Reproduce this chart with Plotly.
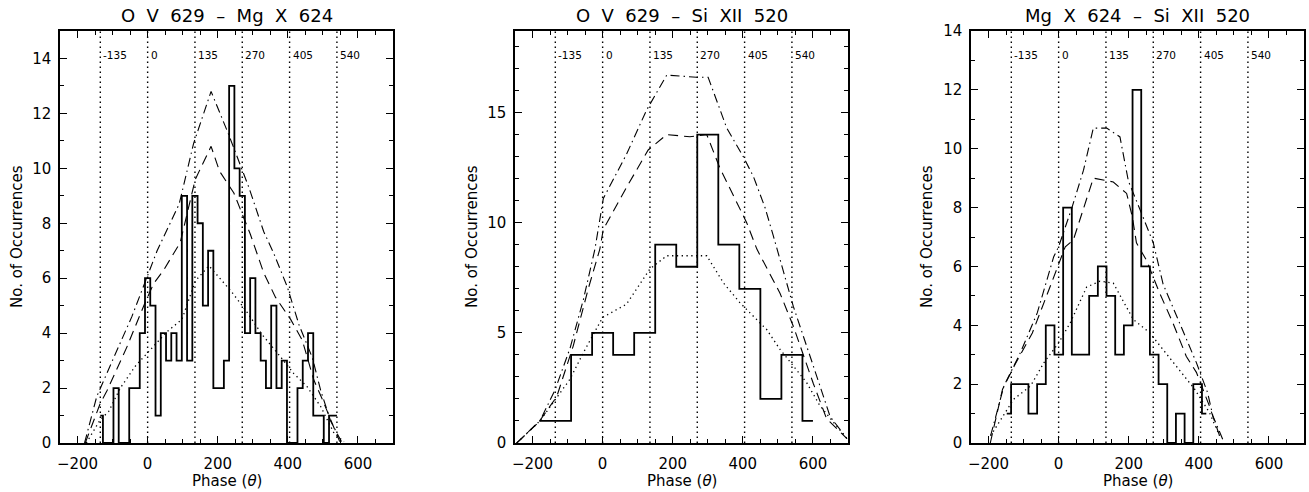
import plotly.graph_objects as go

# ---------------- data ----------------
ref_phases = [-135, 0, 135, 270, 405, 540]

titles = ["O\u00a0 V\u00a0 629\u00a0 \u2013\u00a0 Mg\u00a0 X\u00a0 624",
          "O\u00a0 V\u00a0 629\u00a0 \u2013\u00a0 Si\u00a0 XII\u00a0 520",
          "Mg\u00a0 X\u00a0 624\u00a0 \u2013\u00a0 Si\u00a0 XII\u00a0 520"]

# Panel 1 : O V 629 - Mg X 624 (histogram, 15 deg bins)
p1_hist_x = [-135, -120, -105, -90, -75, -60, -45, -30, -15, 0, 15, 30, 45, 60, 75, 90,
             105, 120, 135, 150, 165, 180, 195, 210, 225, 240, 255, 270, 285, 300, 315,
             330, 345, 360, 375, 390, 405, 420, 435, 450, 465, 480, 495, 510, 525, 540]
p1_hist_y = [1, 0, 0, 2, 0, 0, 2, 2, 4, 6, 5, 1, 4, 3, 4, 3,
             9, 3, 9, 8, 5, 7, 2, 2, 3, 13, 10, 9, 4, 6, 4,
             3, 2, 5, 2, 3, 0, 0, 2, 3, 4, 1, 1, 0, 1, 1]
p1_dd_x = [-180, -145, -97, -45, 0, 27, 90, 131, 181, 229, 265, 289, 331, 360, 398, 432, 470, 494, 522, 555]
p1_dd_y = [0, 1.7, 3.1, 4.6, 6.1, 7.0, 8.7, 10.9, 12.8, 11.3, 10.1, 9.3, 7.7, 6.9, 5.7, 4.3, 3.1, 1.9, 0.8, 0]
p1_da_x = [-178, -135, -116, -59, -11, 17, 46, 93, 136, 181, 205, 246, 293, 331, 365, 408, 441, 474, 498, 522, 548]
p1_da_y = [0, 1.45, 1.9, 3.5, 5.0, 5.8, 6.3, 7.3, 9.6, 10.8, 9.9, 9.1, 7.6, 6.2, 5.3, 4.5, 3.75, 2.3, 1.6, 0.85, 0.05]
p1_do_x = [-175, -135, -111, -78, -35, 0, 55, 98, 136, 175, 236, 279, 327, 379, 417, 455, 494, 532, 560]
p1_do_y = [0, 0.85, 1.15, 2.0, 2.8, 3.3, 4.05, 4.5, 5.9, 6.45, 5.56, 4.85, 3.94, 3.14, 2.53, 2.05, 1.32, 0.35, 0.05]

# Panel 2 : O V 629 - Si XII 520 (histogram, 60 deg bins)
p2_hist_x = [-180, -120, -60, 0, 60, 120, 180, 240, 300, 360, 420, 480, 540, 600]
p2_hist_y = [1, 1, 4, 5, 4, 5, 9, 8, 14, 9, 7, 2, 4, 1]
p2_dd_x = [-245, -179, -136, -93, -55, -22, 2, 68, 125, 183, 268, 301, 354, 401, 430, 463, 487, 544, 601, 649, 697]
p2_dd_y = [0, 1.0, 2.4, 4.3, 6.5, 8.8, 11.1, 13.1, 15.1, 16.7, 16.6, 16.6, 14.3, 13.0, 12.1, 10.7, 9.4, 6.2, 3.5, 1.2, 0.2]
p2_da_x = [-245, -180, -131, -84, -41, -8, 2, 68, 130, 183, 249, 297, 334, 372, 411, 440, 506, 544, 601, 639, 697]
p2_da_y = [0, 1.0, 2.1, 4.4, 7.0, 8.8, 9.7, 11.6, 13.3, 14.0, 13.9, 14.0, 12.5, 11.3, 10.0, 8.8, 6.8, 5.3, 2.7, 1.1, 0.2]
p2_do_x = [-245, -179, -93, -55, 0, 68, 135, 183, 297, 345, 392, 430, 468, 506, 544, 582, 620, 658, 697]
p2_do_y = [0, 1.0, 2.9, 4.1, 5.7, 6.3, 7.9, 8.5, 8.5, 7.26, 6.36, 5.75, 5.15, 4.25, 3.5, 2.74, 1.69, 0.94, 0.2]

# Panel 3 : Mg X 624 - Si XII 520 (histogram, ~25 deg bins)
p3_hist_x = [-148, -123.25, -98.5, -73.75, -49, -24.25, 0.5, 25.25, 50, 74.75, 99.5, 124.25,
             149, 173.75, 198.5, 223.25, 248, 272.75, 297.5, 322.25, 347, 371.75, 396.5, 421.25]
p3_hist_y = [1, 2, 2, 1, 2, 4, 3, 8, 3, 3, 5, 6, 5, 3, 4, 12, 6, 3, 2, 0, 1, 0, 2, 1]
p3_dd_x = [-194, -156, -109, -61, -14, 0, 38, 71, 99, 137, 175, 199, 240, 270, 298, 345, 393, 425, 440, 468]
p3_dd_y = [0.25, 1.94, 3.07, 4.42, 6.33, 6.67, 8.0, 9.27, 10.7, 10.7, 10.4, 8.9, 7.7, 6.8, 5.4, 4.1, 2.73, 1.71, 0.92, 0.13]
p3_da_x = [-195, -160, -123, -75, -28, 19, 42, 71, 99, 156, 194, 210, 222, 251, 288, 326, 364, 393, 430, 459]
p3_da_y = [0, 1.83, 2.7, 3.74, 5.2, 6.67, 6.9, 8.0, 9.0, 8.87, 8.48, 7.7, 6.8, 6.2, 5.1, 4.08, 2.95, 2.4, 1.26, 0.25]
p3_do_x = [-194, -128, -80, -42, 0, 33, 80, 118, 156, 194, 213, 260, 298, 345, 388, 430, 459]
p3_do_y = [0.25, 1.49, 1.94, 2.73, 3.4, 4.08, 5.3, 5.5, 5.43, 4.64, 4.2, 3.74, 3.18, 2.5, 1.83, 1.04, 0.25]

y_ranges = [[0, 15], [0, 18.7], [0, 14]]
y_dticks = [2, 5, 2]
x_tickvals = [-200, 0, 200, 400, 600]

panels = [
    (p1_hist_x, p1_hist_y, p1_dd_x, p1_dd_y, p1_da_x, p1_da_y, p1_do_x, p1_do_y),
    (p2_hist_x, p2_hist_y, p2_dd_x, p2_dd_y, p2_da_x, p2_da_y, p2_do_x, p2_do_y),
    (p3_hist_x, p3_hist_y, p3_dd_x, p3_dd_y, p3_da_x, p3_da_y, p3_do_x, p3_do_y),
]

# ---------------- layout geometry ----------------
W, H = 1309, 492
x_pix = [(60, 393), (515, 848), (971, 1304)]
y_top, y_bot = 31, 443
ytitle_px = [17, 472, 927]
FONT = "DejaVu Sans"

fig = go.Figure()
shapes, annotations = [], []

for i, (hx, hy, ddx, ddy, dax, day, dox, doy) in enumerate(panels):
    xa = "x" if i == 0 else f"x{i+1}"
    ya = "y" if i == 0 else f"y{i+1}"
    common = dict(xaxis=xa, yaxis=ya, mode="lines", showlegend=False, hoverinfo="skip")
    fig.add_trace(go.Scatter(x=dox, y=doy, line=dict(color="black", width=1.3, dash="1.3px,3.5px"), **common))
    fig.add_trace(go.Scatter(x=dax, y=day, line=dict(color="black", width=1.1, dash="10px,6px"), **common))
    fig.add_trace(go.Scatter(x=ddx, y=ddy, line=dict(color="black", width=1.1, dash="9px,4px,1.5px,4px"), **common))
    fig.add_trace(go.Scatter(x=hx, y=hy, line=dict(color="black", width=1.8, shape="hvh"), **common))

    d0, d1 = x_pix[i][0] / W, x_pix[i][1] / W
    xkey = "xaxis" if i == 0 else f"xaxis{i+1}"
    ykey = "yaxis" if i == 0 else f"yaxis{i+1}"
    fig.layout[xkey] = dict(
        domain=[d0, d1], anchor=ya, range=[-250, 700], tickvals=x_tickvals,
        ticks="inside", ticklen=7, tickwidth=1, tickcolor="black",
        minor=dict(dtick=50, tick0=0, ticks="inside", ticklen=4, tickcolor="black", tickwidth=1),
        showline=True, linecolor="black", linewidth=1.5, mirror="ticks",
        showgrid=False, zeroline=False, ticklabelstandoff=6, automargin=False,
        tickfont=dict(family=FONT, size=15, color="black"),
    )
    fig.layout[ykey] = dict(
        domain=[1 - y_bot / H, 1 - y_top / H], anchor=xa, range=y_ranges[i],
        dtick=y_dticks[i], tick0=0,
        ticks="inside", ticklen=7, tickwidth=1, tickcolor="black",
        minor=dict(dtick=1, ticks="inside", ticklen=4, tickcolor="black", tickwidth=1),
        showline=True, linecolor="black", linewidth=1.5, mirror="ticks",
        showgrid=False, zeroline=False, ticklabelstandoff=4, automargin=False,
        tickfont=dict(family=FONT, size=15, color="black"),
    )

    for p in ref_phases:
        shapes.append(dict(type="line", xref=xa, yref=f"{ya} domain", x0=p, x1=p, y0=0, y1=1,
                           line=dict(color="black", width=1.4, dash="1.4px,3.6px")))
        annotations.append(dict(x=p, y=1 - 55 / H, xref=xa, yref="paper", text=str(p),
                                showarrow=False, xanchor="left", yanchor="middle", xshift=1,
                                font=dict(family=FONT, size=10.5, color="black")))

    cx = (d0 + d1) / 2
    annotations.append(dict(x=cx, y=1 - 16 / H, xref="paper", yref="paper", text=titles[i],
                            showarrow=False, xanchor="center", yanchor="middle",
                            font=dict(family=FONT, size=18, color="black")))
    annotations.append(dict(x=cx, y=1 - 481 / H, xref="paper", yref="paper",
                            text="Phase (<i>\u03b8</i>)", showarrow=False,
                            xanchor="center", yanchor="middle",
                            font=dict(family=FONT, size=15, color="black")))
    annotations.append(dict(x=ytitle_px[i] / W, y=1 - ((y_top + y_bot) / 2) / H,
                            xref="paper", yref="paper", text="No. of Occurrences",
                            textangle=-90, showarrow=False, xanchor="center", yanchor="middle",
                            font=dict(family=FONT, size=15, color="black")))

fig.update_layout(
    width=W, height=H, autosize=False,
    margin=dict(l=0, r=0, t=0, b=0, pad=0),
    paper_bgcolor="white", plot_bgcolor="white",
    shapes=shapes, annotations=annotations,
)

fig.write_html("out.html", config={"displayModeBar": False},
               post_script="document.body.style.margin='0px';document.body.style.overflow='hidden';")
